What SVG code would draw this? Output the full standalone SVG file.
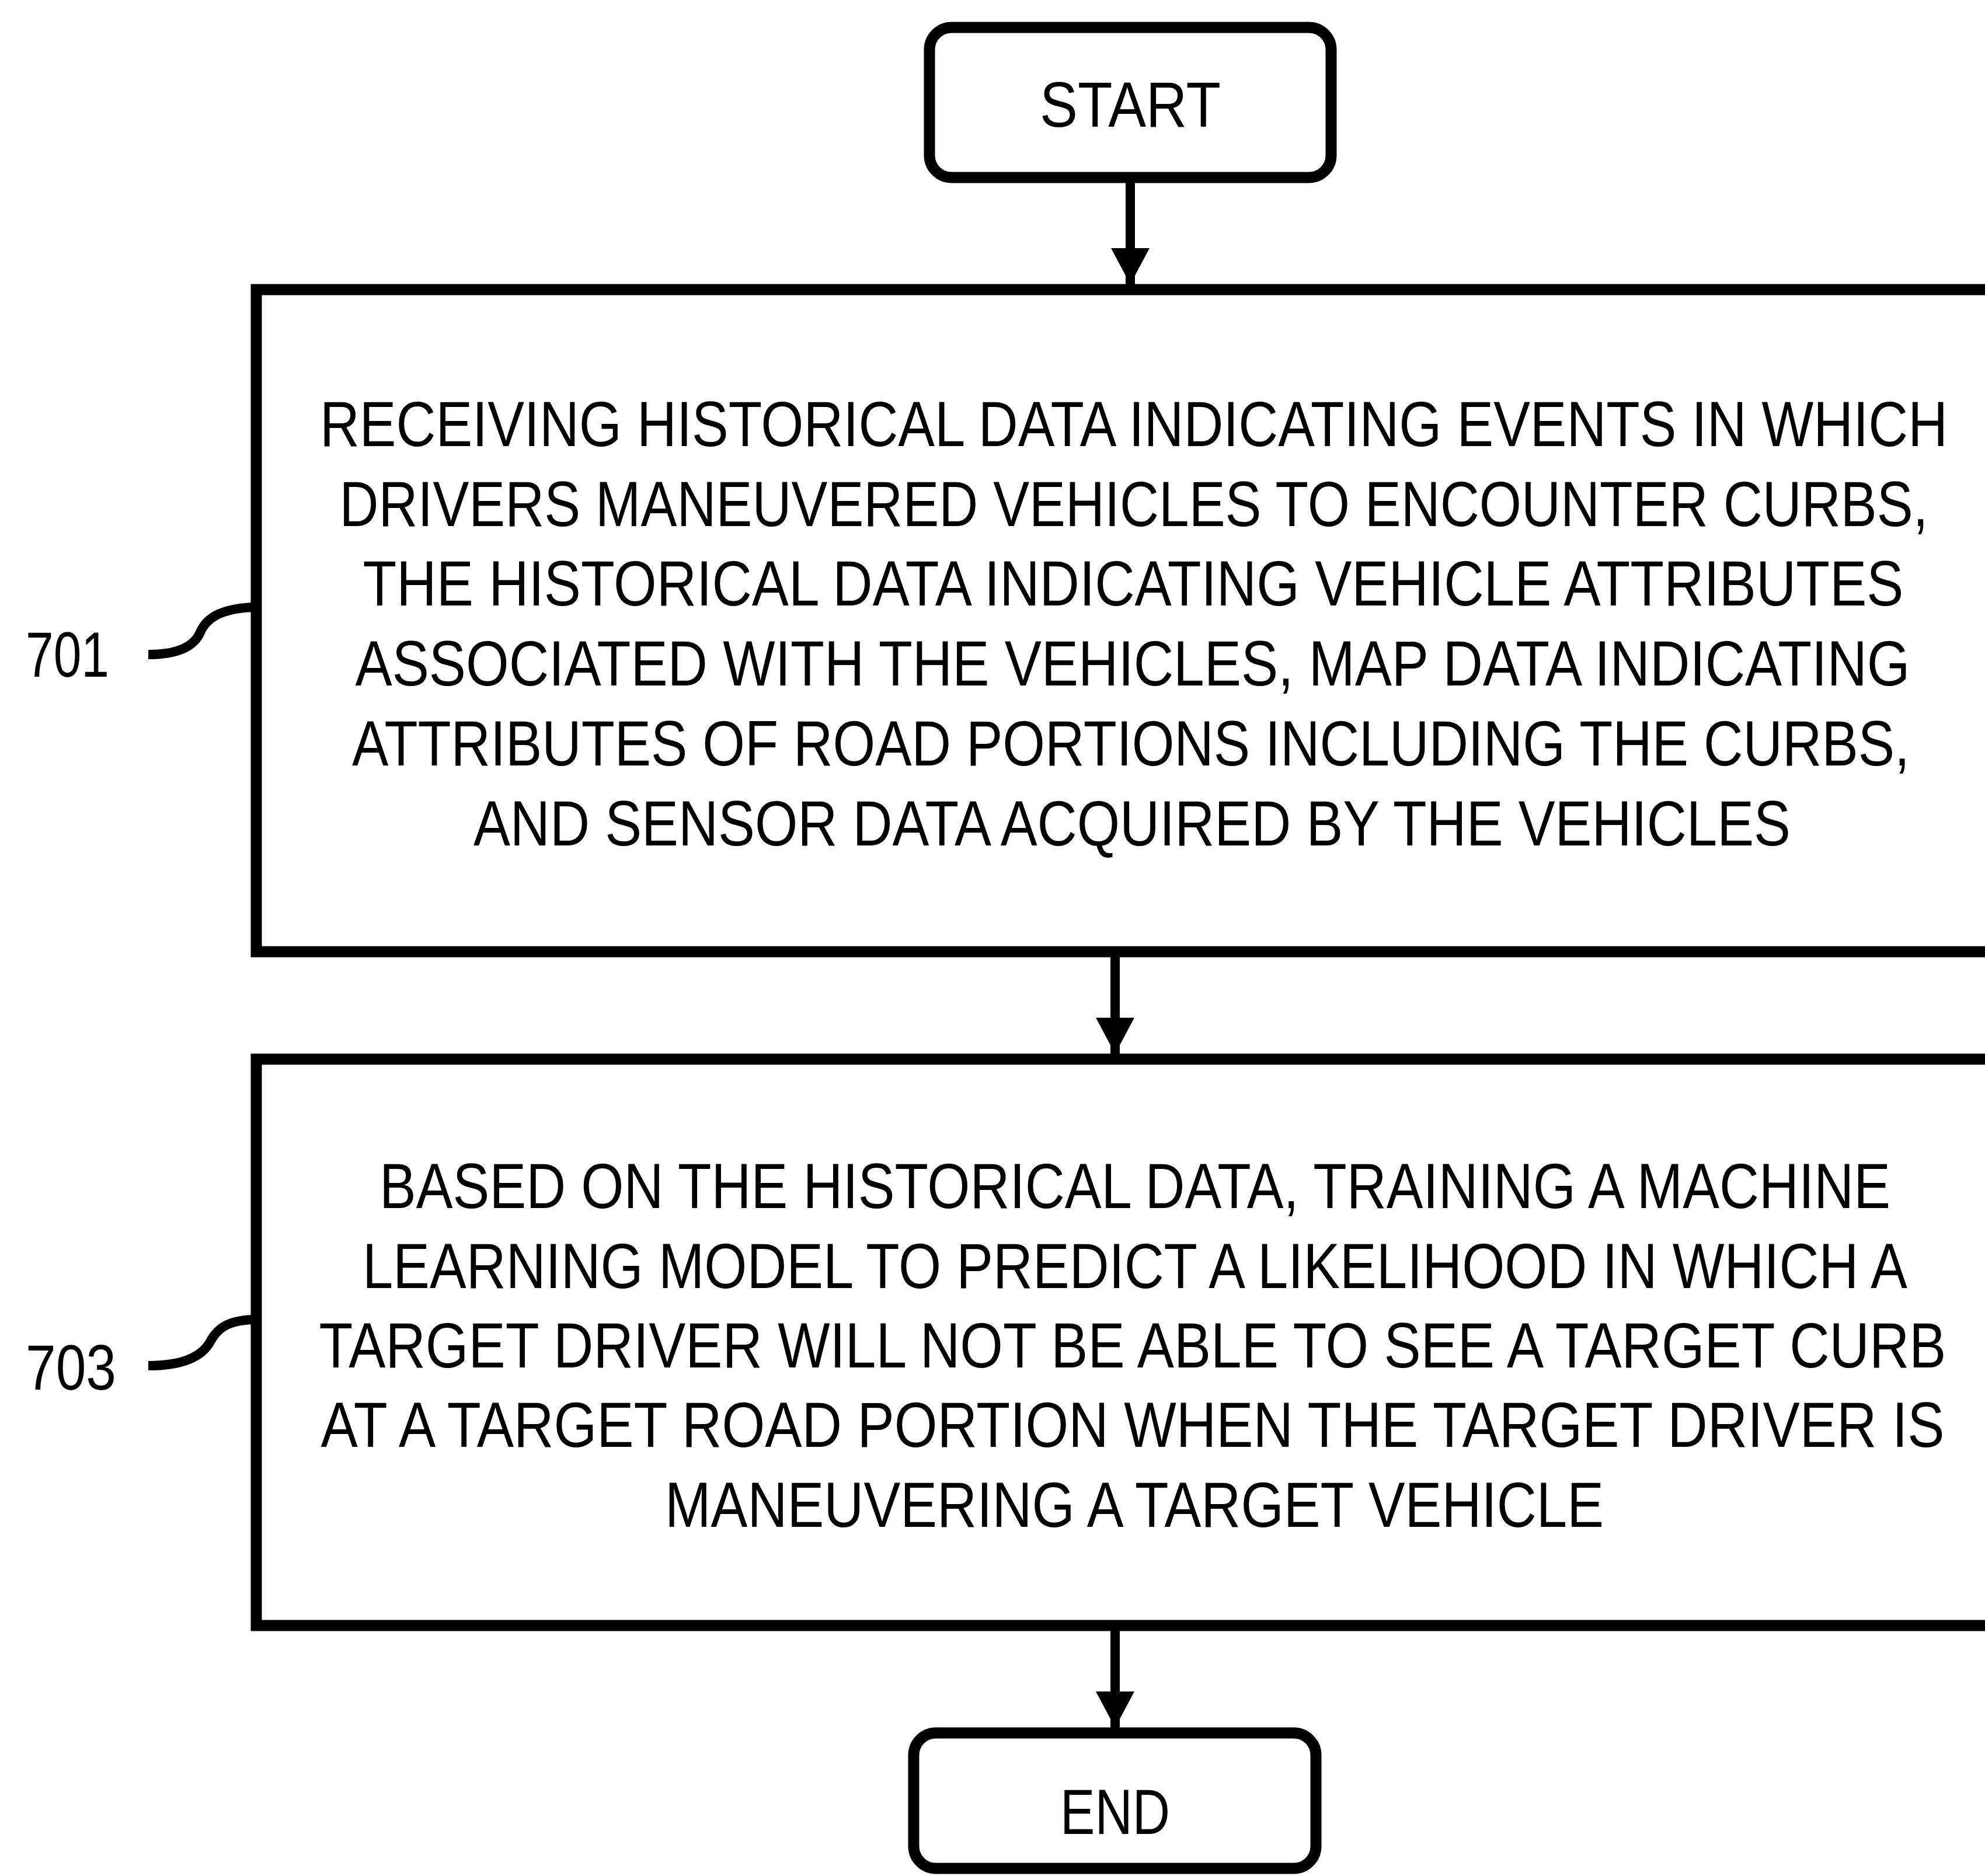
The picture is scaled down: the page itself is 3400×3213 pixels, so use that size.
<svg xmlns="http://www.w3.org/2000/svg" width="3400" height="3213" viewBox="0 0 3400 3213">
<style>
.box{fill:#fff;stroke:#000;stroke-width:19}
.term{fill:#fff;stroke:#000;stroke-width:19}
.t{font-family:"Liberation Sans",Arial,sans-serif;font-size:110px;fill:#000;text-anchor:middle}
.lbl{font-family:"Liberation Sans",Arial,sans-serif;font-size:110px;fill:#000}
.conn{stroke:#000;stroke-width:16;fill:none}
.lead{stroke:#000;stroke-width:16;fill:none}
</style>
<defs>
<marker id="ah" markerUnits="userSpaceOnUse" markerWidth="64" markerHeight="66" refX="62" refY="33" orient="auto" viewBox="0 0 64 66">
<path d="M0,0 L62,33 L0,66 Z" fill="#000"/>
</marker>
</defs>
<rect width="3400" height="3213" fill="#fff"/>
<g id="connectors">
<line class="conn" x1="1936" y1="310" x2="1936" y2="487" marker-end="url(#ah)"/>
<line class="conn" x1="1910" y1="1636" x2="1910" y2="1805" marker-end="url(#ah)"/>
<line class="conn" x1="1910" y1="2790" x2="1910" y2="2959" marker-end="url(#ah)"/>
</g>
<g id="start">
<rect class="term" x="1592" y="47" width="688" height="257" rx="38" ry="38"/>
<text class="t" x="1936" y="217" textLength="310" lengthAdjust="spacingAndGlyphs">START</text>
</g>
<g id="step701">
<rect class="box" x="439" y="496" width="3000" height="1134"/>
<text class="t" x="1942" y="764" textLength="2788" lengthAdjust="spacingAndGlyphs">RECEIVING HISTORICAL DATA INDICATING EVENTS IN WHICH</text>
<text class="t" x="1942" y="901" textLength="2721" lengthAdjust="spacingAndGlyphs">DRIVERS MANEUVERED VEHICLES TO ENCOUNTER CURBS,</text>
<text class="t" x="1941" y="1037" textLength="2639" lengthAdjust="spacingAndGlyphs">THE HISTORICAL DATA INDICATING VEHICLE ATTRIBUTES</text>
<text class="t" x="1940" y="1174" textLength="2663" lengthAdjust="spacingAndGlyphs">ASSOCIATED WITH THE VEHICLES, MAP DATA INDICATING</text>
<text class="t" x="1937" y="1311" textLength="2668" lengthAdjust="spacingAndGlyphs">ATTRIBUTES OF ROAD PORTIONS INCLUDING THE CURBS,</text>
<text class="t" x="1939" y="1448" textLength="2256" lengthAdjust="spacingAndGlyphs">AND SENSOR DATA ACQUIRED BY THE VEHICLES</text>
</g>
<g id="label701">
<text class="lbl" x="44" y="1159" textLength="143" lengthAdjust="spacingAndGlyphs">701</text>
<path class="lead" d="M254,1121 C300,1121 330,1110 342,1085 C352,1060 375,1043 432,1040"/>
</g>
<g id="step703">
<rect class="box" x="439" y="1814" width="3000" height="970"/>
<text class="t" x="1944" y="2069" textLength="2588" lengthAdjust="spacingAndGlyphs">BASED ON THE HISTORICAL DATA, TRAINING A MACHINE</text>
<text class="t" x="1944" y="2206" textLength="2646" lengthAdjust="spacingAndGlyphs">LEARNING MODEL TO PREDICT A LIKELIHOOD IN WHICH A</text>
<text class="t" x="1940" y="2342" textLength="2787" lengthAdjust="spacingAndGlyphs">TARGET DRIVER WILL NOT BE ABLE TO SEE A TARGET CURB</text>
<text class="t" x="1940" y="2478" textLength="2781" lengthAdjust="spacingAndGlyphs">AT A TARGET ROAD PORTION WHEN THE TARGET DRIVER IS</text>
<text class="t" x="1943" y="2615" textLength="1608" lengthAdjust="spacingAndGlyphs">MANEUVERING A TARGET VEHICLE</text>
</g>
<g id="label703">
<text class="lbl" x="44" y="2380" textLength="155" lengthAdjust="spacingAndGlyphs">703</text>
<path class="lead" d="M254,2339 C310,2339 345,2325 360,2298 C372,2275 390,2262 432,2260"/>
</g>
<g id="end">
<rect class="term" x="1565" y="2968" width="689" height="232" rx="38" ry="38"/>
<text class="t" x="1910" y="3141" textLength="188" lengthAdjust="spacingAndGlyphs">END</text>
</g>
</svg>
